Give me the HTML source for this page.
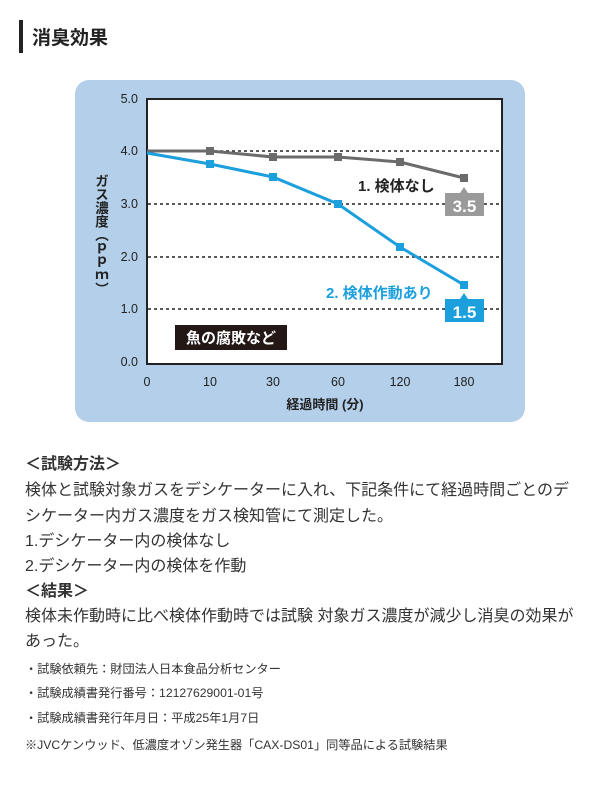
<!DOCTYPE html>
<html><head><meta charset="utf-8"><style>
body{margin:0;width:600px;height:800px;background:#fff;font-family:"Liberation Sans","Noto Sans CJK JP",sans-serif;color:#333;position:relative;overflow:hidden}
.t{position:absolute;white-space:nowrap}
.b{font-size:16px;color:#333}
.s{font-size:12.2px;color:#333}
</style></head><body>
<div style="position:absolute;left:19px;top:20px;width:4px;height:33px;background:#222"></div>
<div class="t" style="left:32px;top:23px;font-size:19px;font-weight:bold;color:#222">消臭効果</div>
<div style="position:absolute;left:75px;top:80px;width:450px;height:342px;background:#b3cfea;border-radius:14px"></div>
<svg style="position:absolute;left:0;top:0" width="600" height="440" font-family="Liberation Sans,Noto Sans CJK JP,sans-serif">
<rect x="147" y="99" width="355" height="265" fill="#fff" stroke="#222" stroke-width="2"/>
<g stroke="#222" stroke-width="1.5" stroke-dasharray="3,3">
<line x1="148" y1="151" x2="501" y2="151"/><line x1="148" y1="204" x2="501" y2="204"/>
<line x1="148" y1="257" x2="501" y2="257"/><line x1="148" y1="309" x2="501" y2="309"/></g>
<g font-size="12.5" fill="#222" text-anchor="end">
<text x="138" y="103">5.0</text><text x="138" y="155">4.0</text><text x="138" y="208">3.0</text>
<text x="138" y="261">2.0</text><text x="138" y="313">1.0</text><text x="138" y="366">0.0</text></g>
<g font-size="12.5" fill="#222" text-anchor="middle">
<text x="147" y="386">0</text><text x="210" y="386">10</text><text x="273" y="386">30</text>
<text x="338" y="386">60</text><text x="400" y="386">120</text><text x="464" y="386">180</text>
<text x="325" y="409" font-weight="bold" font-size="13">経過時間 (分)</text></g>
<polyline points="147,151 210,151 273,157 338,157 400,162 464,178" fill="none" stroke="#6b6b6b" stroke-width="3"/>
<g fill="#6b6b6b"><rect x="206" y="147" width="8" height="8"/><rect x="269" y="153" width="8" height="8"/><rect x="334" y="153" width="8" height="8"/><rect x="396" y="158" width="8" height="8"/><rect x="460" y="174" width="8" height="8"/></g>
<polyline points="147,153 210,164 273,177 338,204 400,247 464,285" fill="none" stroke="#1c9fdd" stroke-width="3"/>
<g fill="#1c9fdd"><rect x="206" y="160" width="8" height="8"/><rect x="269" y="173" width="8" height="8"/><rect x="334" y="200" width="8" height="8"/><rect x="396" y="243" width="8" height="8"/><rect x="460" y="281" width="8" height="8"/></g>
<text x="358" y="191" font-size="15" font-weight="bold" fill="#222">1. 検体なし</text>
<rect x="445" y="193" width="39" height="23" fill="#9a9a9a"/><polygon points="460,193 464,187 468,193" fill="#9a9a9a"/>
<text x="464.5" y="212" font-size="17" font-weight="bold" fill="#fff" text-anchor="middle">3.5</text>
<text x="326" y="298" font-size="15" font-weight="bold" fill="#1c9fdd">2. 検体作動あり</text>
<rect x="445" y="299" width="39" height="23" fill="#1c9fdd"/><polygon points="460,299 464,293 468,299" fill="#1c9fdd"/>
<text x="464.5" y="318" font-size="17" font-weight="bold" fill="#fff" text-anchor="middle">1.5</text>
<rect x="175" y="325" width="112" height="25" fill="#231815"/>
<text x="231" y="343" font-size="15" font-weight="bold" fill="#fff" text-anchor="middle">魚の腐敗など</text>
</svg>
<div class="t" style="left:92px;top:174px;writing-mode:vertical-rl;font-size:13.5px;font-weight:bold;color:#222;line-height:16px">ガス濃度（ｐｐｍ）</div>
<div class="t b" style="left:25px;top:450px;font-weight:bold">＜試験方法＞</div>
<div class="t b" style="left:25px;top:476px">検体と試験対象ガスをデシケーターに入れ、下記条件にて経過時間ごとのデ</div>
<div class="t b" style="left:25px;top:502px">シケーター内ガス濃度をガス検知管にて測定した。</div>
<div class="t b" style="left:25px;top:527px">1.デシケーター内の検体なし</div>
<div class="t b" style="left:25px;top:552px">2.デシケーター内の検体を作動</div>
<div class="t b" style="left:25px;top:577px;font-weight:bold">＜結果＞</div>
<div class="t b" style="left:25px;top:602px">検体未作動時に比べ検体作動時では試験 対象ガス濃度が減少し消臭の効果が</div>
<div class="t b" style="left:25px;top:627px">あった。</div>
<div class="t s" style="left:25px;top:659px">・試験依頼先：財団法人日本食品分析センター</div>
<div class="t s" style="left:25px;top:683px">・試験成績書発行番号：12127629001-01号</div>
<div class="t s" style="left:25px;top:708px">・試験成績書発行年月日：平成25年1月7日</div>
<div class="t s" style="left:25px;top:735px">※JVCケンウッド、低濃度オゾン発生器「CAX-DS01」同等品による試験結果</div>
</body></html>
